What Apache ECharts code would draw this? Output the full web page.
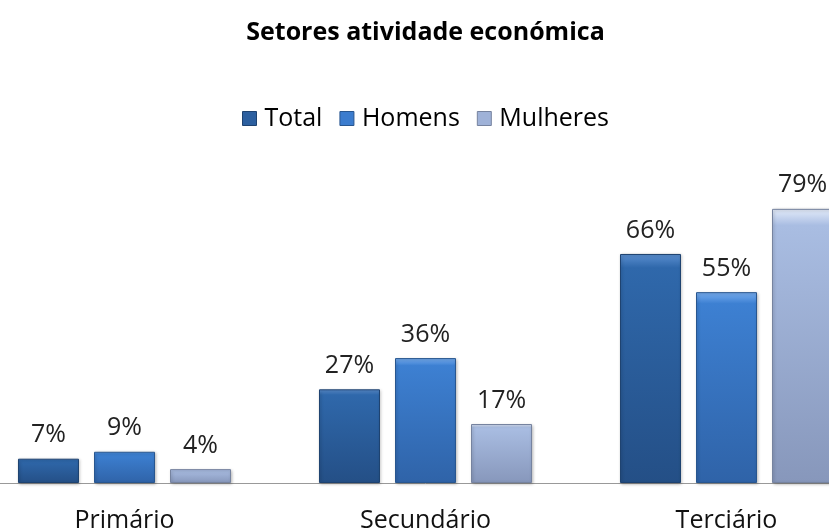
<!DOCTYPE html>
<html>
<head>
<meta charset="utf-8">
<script src="https://cdn.jsdelivr.net/npm/echarts@6/dist/echarts.min.js"></script>
<style>html,body{margin:0;padding:0;background:#fff;overflow:hidden;width:829px;height:531px;}#c{position:absolute;left:-26px;top:0;width:903px;height:531px;}</style>
</head>
<body>
<div id="c"></div>
<script>
const categories = ['Primário', 'Secundário', 'Terciário'];
const seriesNames = ['Total', 'Homens', 'Mulheres'];
const totalValues = [7, 27, 66];
const homensValues = [9, 36, 55];
const mulheresValues = [4, 17, 79];

const FONT = 'Open Sans';
function grad(top, mid, bottom) {
  return new echarts.graphic.LinearGradient(0, 0, 0, 1, [
    {offset: 0, color: top},
    {offset: 0.06, color: mid},
    {offset: 1, color: bottom}
  ]);
}
const styles = [
  {color: grad('#5b8fd0', '#2f68ab', '#244f86'), border: '#1e4270', legend: '#2c5f9f'},
  {color: grad('#78aef0', '#3d80d2', '#2f63a8'), border: '#28568f', legend: '#3b7cce'},
  {color: grad('#e4ecfa', '#a9bde2', '#8797bb'), border: '#76839f', legend: '#9fb2d8'}
];
const dataSets = [totalValues, homensValues, mulheresValues];

const chart = echarts.init(document.getElementById('c'), null, {renderer: 'canvas'});
chart.setOption({
  animation: false,
  backgroundColor: '#fff',
  title: {
    text: 'Setores atividade económica',
    left: 'center',
    top: 15,
    textStyle: {fontFamily: FONT, fontWeight: 'bold', fontSize: 25, color: '#000'}
  },
  legend: {
    top: 101,
    left: 'center',
    itemWidth: 14,
    itemHeight: 14,
    itemGap: 17,
    textStyle: {fontFamily: FONT, fontSize: 25, color: '#000', padding: [0, 0, 0, 3]},
    data: seriesNames.map((n, i) => ({name: n, icon: 'rect', itemStyle: {color: styles[i].legend, borderColor: styles[i].border, borderWidth: 1}}))
  },
  grid: {left: 0, right: 0, top: 136, bottom: 48, containLabel: false, outerBoundsMode: 'none'},
  xAxis: {
    type: 'category',
    data: categories,
    axisLine: {show: true, lineStyle: {color: '#999', width: 1}},
    axisTick: {show: false},
    axisLabel: {fontFamily: FONT, fontSize: 25, color: '#111', margin: 25}
  },
  yAxis: {
    type: 'value',
    min: 0,
    max: 100,
    show: false,
    splitLine: {show: false}
  },
  series: seriesNames.map((n, i) => ({
    name: n,
    type: 'bar',
    barWidth: 61,
    barGap: '24.6%',
    data: dataSets[i],
    itemStyle: {color: styles[i].color, borderColor: styles[i].border, borderWidth: 1, shadowColor: 'rgba(0,0,0,0.25)', shadowBlur: 3, shadowOffsetX: 1, shadowOffsetY: 1},
    label: {
      show: true,
      position: 'top',
      distance: 11,
      formatter: '{c}%',
      fontFamily: FONT,
      fontSize: 25,
      color: '#222'
    }
  }))
});
</script>
</body>
</html>
